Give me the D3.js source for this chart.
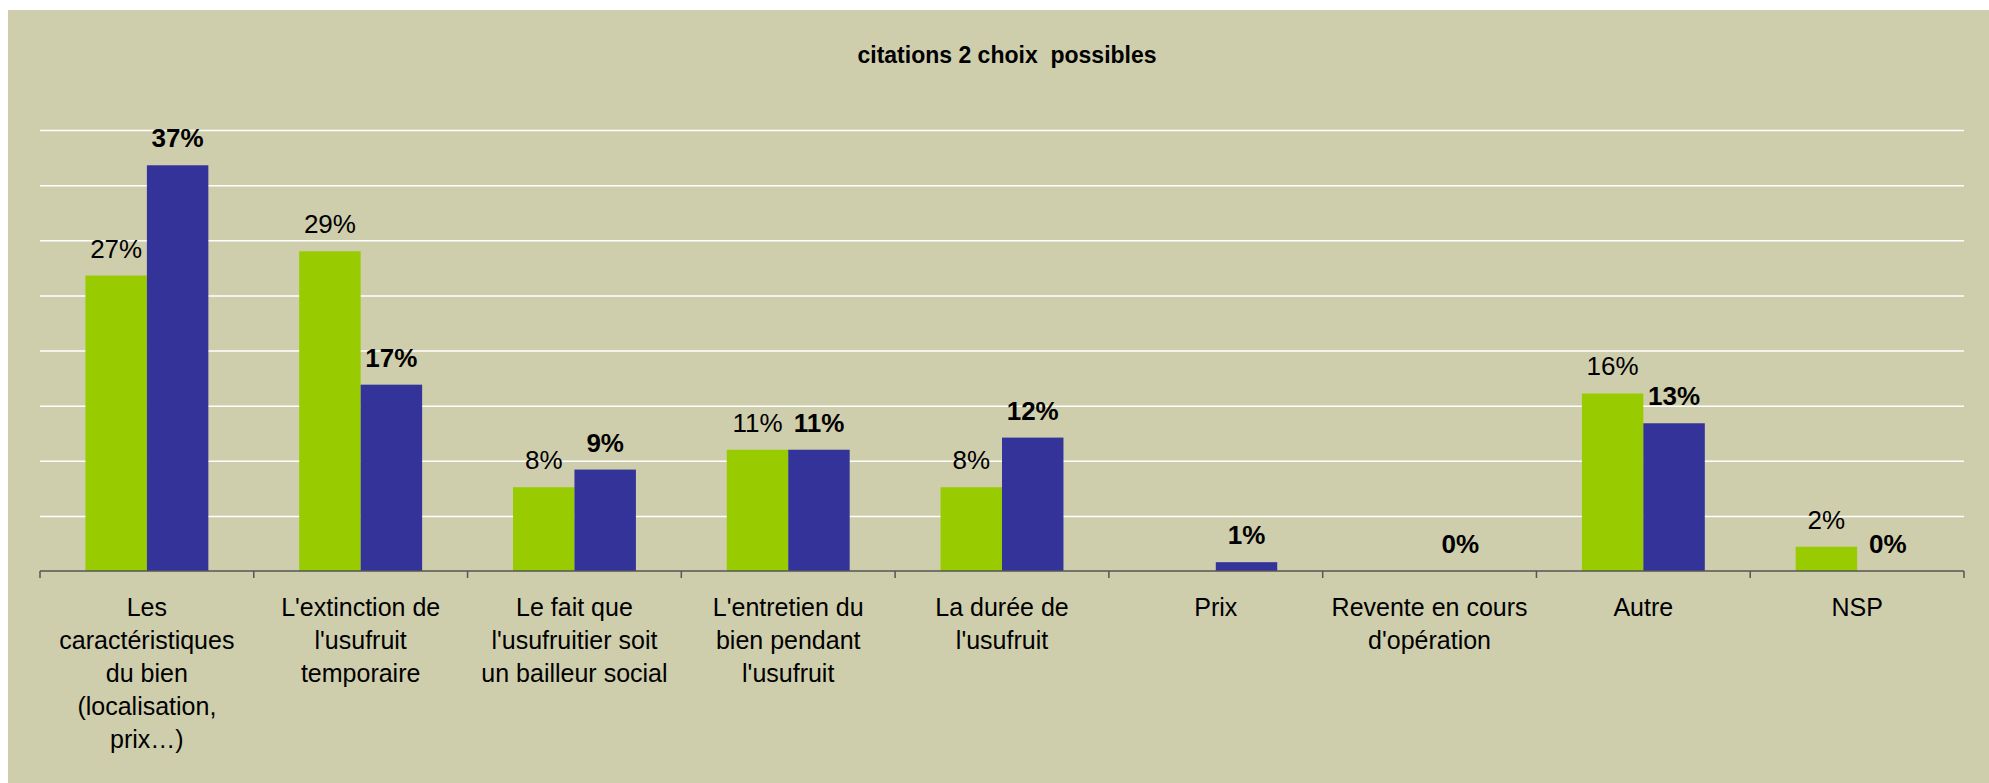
<!DOCTYPE html>
<html>
<head>
<meta charset="utf-8">
<script src="https://cdn.jsdelivr.net/npm/d3@7/dist/d3.min.js"></script>
<style>
  body { margin: 0; background: #fff; }
  svg { display: block; font-family: "Liberation Sans", Arial, sans-serif; }
</style>
</head>
<body>
<div id="chart"></div>
<script>
// categories (one array of lines per label)
const categories = [
  ['Les', 'caractéristiques', 'du bien', '(localisation,', 'prix…)'],
  ["L'extinction de", "l'usufruit", 'temporaire'],
  ['Le fait que', "l'usufruitier soit", 'un bailleur social'],
  ["L'entretien du", 'bien pendant', "l'usufruit"],
  ['La durée de', "l'usufruit"],
  ['Prix'],
  ['Revente en cours', "d'opération"],
  ['Autre'],
  ['NSP']
];
// series values (%)
const greenVals = [26.8, 29.0, 7.6, 11.0, 7.6, 0, 0, 16.1, 2.2];
const blueVals = [36.8, 16.9, 9.2, 11.0, 12.1, 0.8, 0, 13.4, 0];
// value labels
const greenLabels = ['27%', '29%', '8%', '11%', '8%', null, null, '16%', '2%'];
const blueLabels = ['37%', '17%', '9%', '11%', '12%', '1%', '0%', '13%', '0%'];
const gridTicks = [5, 10, 15, 20, 25, 30, 35, 40];
const title = 'citations 2 choix  possibles';

const width = 1989, height = 783;
const plotLeft = 40, plotRight = 1964, plotTop = 130, plotBottom = 571;

const svg = d3.select('#chart').append('svg')
  .attr('width', width)
  .attr('height', height);

svg.append('rect')
  .attr('x', 8).attr('y', 10)
  .attr('width', width - 8).attr('height', height - 10)
  .attr('fill', '#cfceac');

const x0 = d3.scaleBand()
  .domain(d3.range(categories.length))
  .range([plotLeft, plotRight])
  .paddingInner(0.425)
  .paddingOuter(0.2125);

const x1 = d3.scaleBand()
  .domain(['green', 'blue'])
  .range([0, x0.bandwidth()]);

const y = d3.scaleLinear()
  .domain([0, 40])
  .range([plotBottom, plotTop]);

// gridlines
svg.append('g')
  .attr('transform', `translate(${plotLeft},0)`)
  .call(d3.axisLeft(y).tickValues(gridTicks).tickSize(-(plotRight - plotLeft)).tickFormat(''))
  .call(g => g.select('.domain').remove())
  .call(g => g.selectAll('line').attr('stroke', '#ffffff').attr('stroke-width', 1.5));

const series = [
  { key: 'green', vals: greenVals, labels: greenLabels, color: '#99cc00', weight: 'normal' },
  { key: 'blue', vals: blueVals, labels: blueLabels, color: '#333399', weight: 'bold' }
];

series.forEach(s => {
  svg.append('g')
    .selectAll('rect')
    .data(s.vals)
    .enter()
    .append('rect')
      .attr('x', (d, i) => x0(i) + x1(s.key))
      .attr('y', d => y(d))
      .attr('width', x1.bandwidth())
      .attr('height', d => y(0) - y(d))
      .attr('fill', s.color);
});

// x axis: line with ticks on category boundaries
const step = x0.step();
svg.append('line')
  .attr('x1', plotLeft).attr('x2', plotRight)
  .attr('y1', plotBottom).attr('y2', plotBottom)
  .attr('stroke', '#555')
  .attr('stroke-width', 1.5);
svg.append('g')
  .selectAll('line')
  .data(d3.range(categories.length + 1))
  .enter()
  .append('line')
    .attr('x1', i => plotLeft + i * step)
    .attr('x2', i => plotLeft + i * step)
    .attr('y1', plotBottom)
    .attr('y2', plotBottom + 7)
    .attr('stroke', '#555')
    .attr('stroke-width', 1.5);

// value labels (skip the empty ones)
series.forEach(s => {
  svg.append('g')
    .selectAll('text')
    .data(d3.range(s.labels.length).filter(i => s.labels[i] !== null))
    .enter()
    .append('text')
      .attr('x', i => x0(i) + x1(s.key) + x1.bandwidth() / 2)
      .attr('y', i => y(s.vals[i]) - 18)
      .attr('text-anchor', 'middle')
      .attr('font-size', '26px')
      .attr('font-weight', s.weight)
      .attr('fill', '#000')
      .text(i => s.labels[i]);
});

// category labels
const cat = svg.append('g')
  .selectAll('text')
  .data(categories)
  .enter()
  .append('text')
    .attr('x', (d, i) => plotLeft + (i + 0.5) * step)
    .attr('y', 616)
    .attr('text-anchor', 'middle')
    .attr('font-size', '25px')
    .attr('fill', '#000');
cat.selectAll('tspan')
  .data(d => d)
  .enter()
  .append('tspan')
    .attr('x', function() { return this.parentNode.getAttribute('x'); })
    .attr('dy', (d, i) => i === 0 ? 0 : 33)
    .text(d => d);

svg.append('text')
  .attr('x', 1007)
  .attr('y', 63)
  .attr('text-anchor', 'middle')
  .attr('font-size', '23px')
  .attr('font-weight', 'bold')
  .style('white-space', 'pre')
  .attr('fill', '#000')
  .text(title);
</script>
</body>
</html>
